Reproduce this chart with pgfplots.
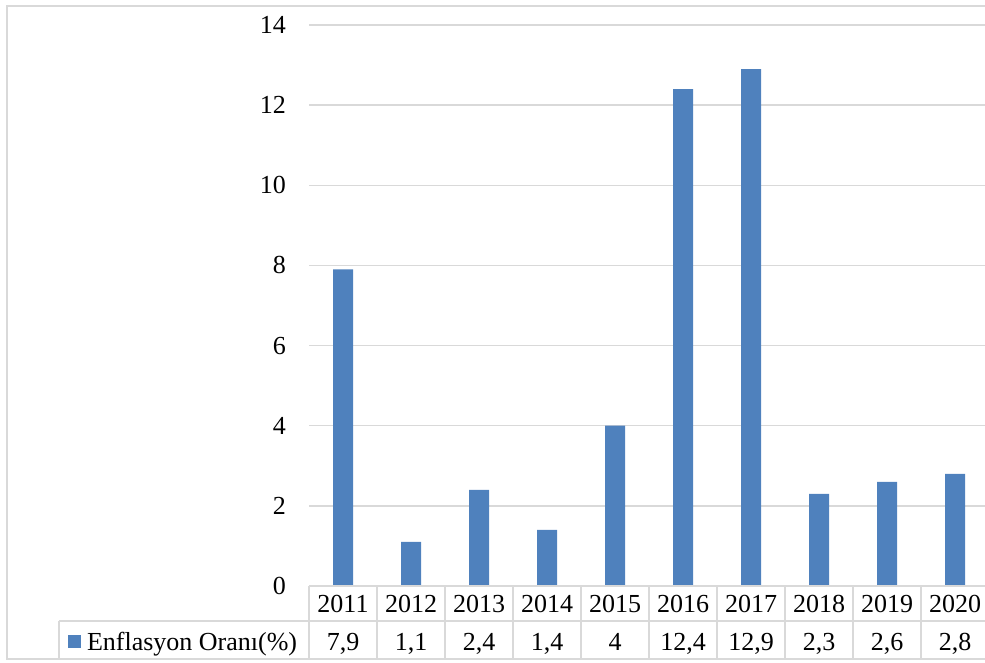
\documentclass[border=0pt]{standalone}
\usepackage{pgfplots}
\usepackage{pgfplotstable}
\pgfplotsset{compat=1.18}
\usepackage{fontspec}
\setmainfont{Liberation Serif}

\definecolor{barblue}{HTML}{4F81BD}
\definecolor{rulegray}{HTML}{D9D9D9}

% Annual inflation rate (%)
\pgfplotstableread{
idx year rate
0 2011 7.9
1 2012 1.1
2 2013 2.4
3 2014 1.4
4 2015 4
5 2016 12.4
6 2017 12.9
7 2018 2.3
8 2019 2.6
9 2020 2.8
}\infl

\newcommand\chartfont{\fontsize{26bp}{38bp}\selectfont}

\begin{document}
\begin{tikzpicture}[x=1bp,y=1bp]
\useasboundingbox (0,0) rectangle (985,663);
\begin{scope}
\clip (0,0) rectangle (985,663);
\begin{axis}[
  at={(309bp,77bp)}, anchor=south west,
  scale only axis, width=680bp, height=561bp,
  xmin=-0.5, xmax=9.5, ymin=0, ymax=14,
  ybar, bar width=20bp,
  axis line style={draw=none},
  major tick length=0pt,
  ytick={0,2,...,14},
  ymajorgrids, grid style={draw=rulegray, line width=1.5bp},
  xtick=data,
  /pgf/number format/assume math mode=true,
  ticklabel style={font=\chartfont},
  yticklabel style={anchor=east, inner sep=0pt, xshift=-23bp},
  xticklabel style={anchor=north, inner sep=0pt, yshift=-9bp, align=center},
  xticklabel={\pgfplotstablegetelem{\ticknum}{year}\of\infl\pgfplotsretval\\\pgfplotstablegetelem{\ticknum}{rate}\of\infl\pgfmathprintnumber[use comma]{\pgfplotsretval}},
  legend image code/.code={\fill[barblue] (0bp,-6.5bp) rectangle (13bp,6.5bp);},
  legend style={at={(-0.3544,-0.0998)}, anchor=west, draw=none, fill=none,
    inner sep=0pt, outer sep=0pt, font=\chartfont,
    nodes={inner sep=0pt}, column sep=6bp},
]
\addplot[fill=barblue, draw=none] table[x=idx, y=rate]{\infl};
\addlegendentry{Enflasyon Oranı(\%)}
\end{axis}
% data table rules and outer frame
\begin{scope}[draw=rulegray, line width=1.5bp]
  \draw (309,77) -- (995,77);
  \draw (59,42) -- (995,42);
  \draw (59,42) -- (59,4);
  \foreach \k in {0,...,10} { \draw (309+68*\k,77) -- (309+68*\k,4); }
  \draw (7,4) rectangle (995,657);
\end{scope}
\end{scope}
\end{tikzpicture}
\end{document}
